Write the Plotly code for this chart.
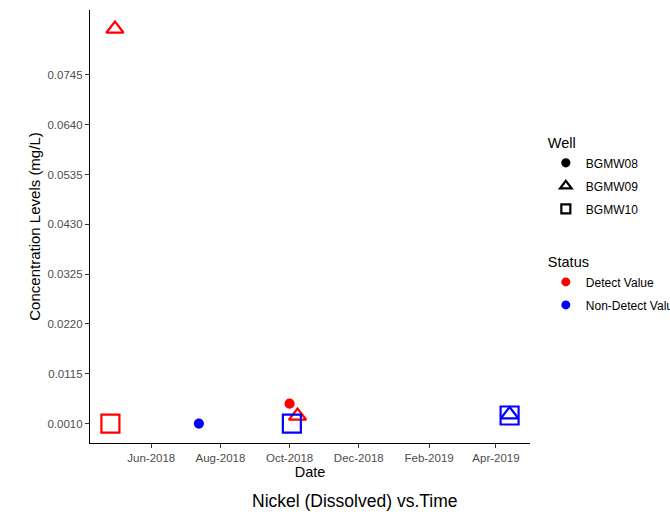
import plotly.graph_objects as go

# Data
dates = ["2018-04-26", "2018-04-30", "2018-07-13", "2018-10-01", "2018-10-03", "2018-10-08", "2019-04-13", "2019-04-13"]
values = [0.0010, 0.0842, 0.0010, 0.0052, 0.0010, 0.0026, 0.0027, 0.0029]
wells = ["BGMW10", "BGMW09", "BGMW08", "BGMW08", "BGMW10", "BGMW09", "BGMW10", "BGMW09"]
statuses = ["Detect Value", "Detect Value", "Non-Detect Value", "Detect Value", "Non-Detect Value", "Detect Value", "Non-Detect Value", "Non-Detect Value"]

well_names = ["BGMW08", "BGMW09", "BGMW10"]
status_names = ["Detect Value", "Non-Detect Value"]
y_ticks = [0.0010, 0.0115, 0.0220, 0.0325, 0.0430, 0.0535, 0.0640, 0.0745]
x_ticks = ["2018-06-01", "2018-08-01", "2018-10-01", "2018-12-01", "2019-02-01", "2019-04-01"]
x_ticklabels = ["Jun-2018", "Aug-2018", "Oct-2018", "Dec-2018", "Feb-2019", "Apr-2019"]

symbols = {"BGMW08": "circle", "BGMW09": "triangle-up-open", "BGMW10": "square-open"}
sizes = {"BGMW08": 8, "BGMW09": 15, "BGMW10": 18}
colors = {"Detect Value": "#FF0000", "Non-Detect Value": "#0000FF"}

fig = go.Figure()
for w in well_names:
    for s in status_names:
        xs = [d for d, ww, ss in zip(dates, wells, statuses) if ww == w and ss == s]
        ys = [v for v, ww, ss in zip(values, wells, statuses) if ww == w and ss == s]
        if not xs:
            continue
        fig.add_trace(go.Scatter(
            x=xs, y=ys, mode="markers", showlegend=False,
            marker=dict(symbol=symbols[w], size=sizes[w], color=colors[s],
                        line=dict(width=2.2, color=colors[s]))))

# Legend entries
leg_sym = {"BGMW08": ("circle", 7), "BGMW09": ("triangle-up-open", 10), "BGMW10": ("square-open", 9)}
for w in well_names:
    sym, sz = leg_sym[w]
    fig.add_trace(go.Scatter(x=[None], y=[None], mode="markers", name=w, legend="legend", legendgroup=w,
                             marker=dict(symbol=sym, size=sz, color="black",
                                         line=dict(width=2.2, color="black"))))
for s in status_names:
    fig.add_trace(go.Scatter(x=[None], y=[None], mode="markers", name=s, legend="legend2", legendgroup=s,
                             marker=dict(symbol="circle", size=9, color=colors[s])))

axis_common = dict(showgrid=False, zeroline=False, showline=True, linecolor="black", linewidth=1.2,
                   ticks="outside", ticklen=4, tickcolor="#333333",
                   tickfont=dict(family="Liberation Sans, Arial", size=11.5, color="#4D4D4D"))

fig.update_layout(
    width=670, height=518,
    margin=dict(l=90, r=140, t=10, b=75, autoexpand=False),
    plot_bgcolor="white", paper_bgcolor="white",
    font=dict(family="Liberation Sans, Arial", color="black"),
    xaxis=dict(range=["2018-04-08", "2019-05-01"], tickvals=x_ticks, ticktext=x_ticklabels,
               title=dict(text="Date", font=dict(size=14.5), standoff=3), **axis_common),
    yaxis=dict(range=[-0.0031, 0.0882], tickvals=y_ticks, tickformat=".4f",
               title=dict(text="Concentration Levels (mg/L)", font=dict(size=15), standoff=3), **axis_common),
    legend=dict(title=dict(text="Well", font=dict(size=14.5)), x=1.036, xanchor="left", y=0.724, yanchor="top",
                font=dict(size=12), bgcolor="rgba(0,0,0,0)", tracegroupgap=4),
    legend2=dict(title=dict(text="Status", font=dict(size=14.5)), x=1.036, xanchor="left", y=0.449, yanchor="top",
                 font=dict(size=12), bgcolor="rgba(0,0,0,0)", tracegroupgap=4),
    annotations=[dict(text="Nickel (Dissolved) vs.Time", xref="paper", yref="paper", x=0.603, y=-0.107,
                      xanchor="center", yanchor="top", showarrow=False, font=dict(size=17.5))],
)

fig.write_html("out.html")
